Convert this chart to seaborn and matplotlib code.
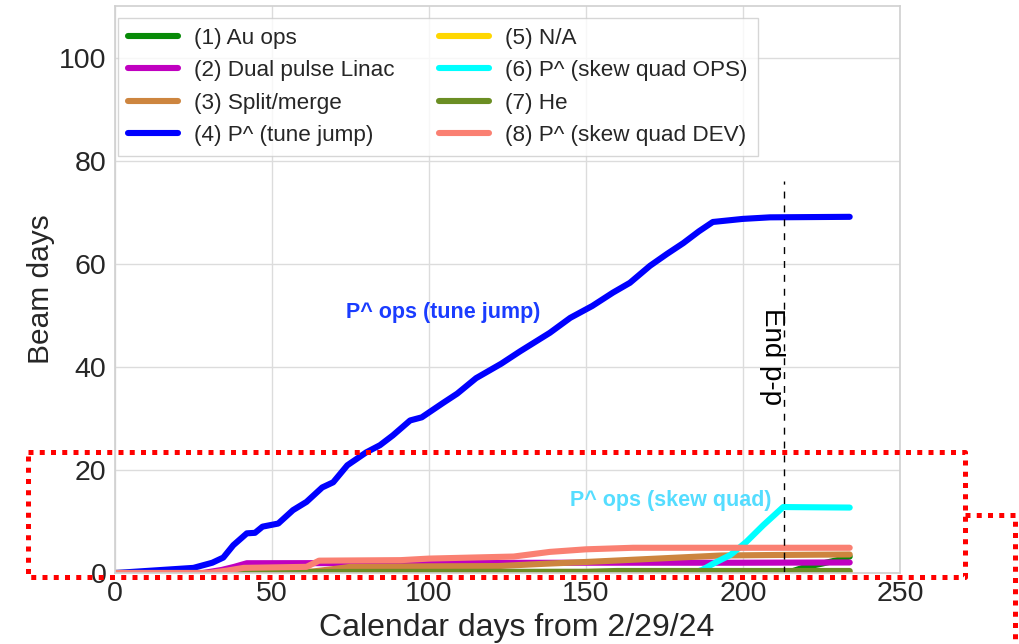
import numpy as np
import pandas as pd
import matplotlib
matplotlib.use("Agg")
import matplotlib.pyplot as plt
from matplotlib.lines import Line2D
import seaborn as sns

# ---------------- data ----------------
labels = ["(1) Au ops", "(2) Dual pulse Linac", "(3) Split/merge", "(4) P^ (tune jump)",
          "(5) N/A", "(6) P^ (skew quad OPS)", "(7) He", "(8) P^ (skew quad DEV)"]
colors = ["#078a07", "#c000c0", "#cd853f", "#0000ff", "#ffd700", "#00ffff", "#6b8e23", "#fa8072"]

au_x = [0, 212, 216, 220, 225, 230, 234]
au_y = [0, 0, 0.4, 1.2, 1.8, 2.5, 3.2]

dual_x = [0, 28, 34, 38, 42, 100, 150, 200, 234]
dual_y = [0, 0, 0.6, 1.2, 1.9, 1.95, 2.0, 2.0, 2.05]

split_x = [0, 40, 55, 63, 70, 75, 100, 122, 137, 152, 176, 193, 210, 234]
split_y = [0, 0, 0.1, 0.3, 0.8, 1.2, 1.3, 1.35, 1.8, 2.2, 2.9, 3.4, 3.5, 3.6]

tune_x = [0, 10, 25, 31, 34.5, 37.7, 42, 44.6, 47, 52, 56.7, 61, 66, 69.5, 74, 80, 84.4,
          88.5, 94, 97.7, 104.5, 109, 115, 123, 129, 138.5, 145, 152, 158.6, 164, 170.4,
          175.8, 181, 186, 190.4, 200, 208.6, 234]
tune_y = [0, 0.4, 1.0, 2.0, 3.0, 5.4, 7.7, 7.8, 9.0, 9.6, 12.2, 13.8, 16.6, 17.6, 20.9,
          23.4, 24.8, 26.7, 29.6, 30.2, 33.0, 34.8, 37.8, 40.6, 43.0, 46.6, 49.5, 51.8,
          54.4, 56.3, 59.6, 61.9, 64.0, 66.3, 68.1, 68.7, 69.0, 69.1]

na_x = [0, 234]
na_y = [0, 0]

skew_ops_x = [0, 184, 187, 190.5, 196, 201, 206.5, 212.8, 234]
skew_ops_y = [0, 0, 0.6, 1.8, 3.5, 6.0, 9.3, 12.8, 12.7]

he_x = [0, 40, 42, 150, 160, 234]
he_y = [0, 0, 0.2, 0.25, 0.4, 0.4]

skew_dev_x = [0, 30, 36, 41, 61, 65, 91, 100, 127, 138.5, 150, 165, 200, 234]
skew_dev_y = [0, 0, 0.5, 1.0, 1.2, 2.4, 2.5, 2.8, 3.2, 4.1, 4.6, 4.9, 4.9, 4.9]

series_x = [au_x, dual_x, split_x, tune_x, na_x, skew_ops_x, he_x, skew_dev_x]
series_y = [au_y, dual_y, split_y, tune_y, na_y, skew_ops_y, he_y, skew_dev_y]

end_pp_day = 213
x_ticks = [0, 50, 100, 150, 200, 250]
y_ticks = [0, 20, 40, 60, 80, 100]

# ---------------- plot ----------------
sns.set_theme(style="whitegrid")
plt.rcParams['font.family'] = ['Liberation Sans', 'DejaVu Sans']
plt.rcParams['axes.edgecolor'] = '#d0d0d0'
plt.rcParams['grid.color'] = '#dcdcdc'

fig = plt.figure(figsize=(10.2, 6.44), dpi=100)
ax = fig.add_axes([0.1127, 0.1102, 0.7696, 0.8805])

for xs, ys, lab, col in zip(series_x, series_y, labels, colors):
    df = pd.DataFrame({"day": xs, "beam": ys})
    sns.lineplot(data=df, x="day", y="beam", ax=ax, color=col, lw=4.4,
                 label=lab, estimator=None, sort=False)

ax.axvline(end_pp_day, ymin=0, ymax=76 / 110, color="black", ls=(0, (5, 5)), lw=1.0)
ax.text(end_pp_day - 3.6, 42, "End p-p", rotation=270, ha="center", va="center",
        fontsize=20, color="black")
ax.text(104.5, 50.5, "P^ ops (tune jump)", color="#1a3cff", fontsize=15.5,
        fontweight="bold", ha="center", va="center")
ax.text(177, 14, "P^ ops (skew quad)", color="#55ddff", fontsize=15.5,
        fontweight="bold", ha="center", va="center")

ax.set_xlim(0, 250)
ax.set_ylim(0, 110)
ax.set_xticks(x_ticks)
ax.set_yticks(y_ticks)
ax.tick_params(labelsize=20.5, colors="#262626", length=0, pad=6)
ax.set_xlabel("Calendar days from 2/29/24", fontsize=23.0, color="#262626", labelpad=4)
ax.xaxis.label.set_x(0.5 + 9 / 787)
ax.set_ylabel("Beam days", fontsize=21.5, color="#262626", labelpad=3)
for s in ax.spines.values():
    s.set_color("#d0d0d0")
    s.set_linewidth(1.2)

leg = ax.legend(loc="upper left", ncol=2, fontsize=16.2, frameon=True, fancybox=False,
                handlelength=2.2, columnspacing=2.0, labelspacing=0.5,
                bbox_to_anchor=(3 / 785, 1 - 12 / 567), borderaxespad=0,
                borderpad=0.45, handletextpad=0.72)
leg.get_frame().set_edgecolor("#cccccc")
leg.get_frame().set_linewidth(1.0)
for t in leg.get_texts():
    t.set_color("#262626")

# red dotted highlight annotation (figure pixel space)
W, H = 1020, 644
def fx(p): return p / W
def fy(p): return 1 - p / H
red_style = dict(color="red", lw=3.6, ls=(0, (1, 1.25)), transform=fig.transFigure, clip_on=False)
box_x = [28, 965, 965, 28, 28]
box_y = [452, 452, 577, 577, 452]
fig.add_artist(Line2D([fx(v) for v in box_x], [fy(v) for v in box_y], **red_style))
con_x = [965, 1015, 1015]
con_y = [515, 515, 644]
fig.add_artist(Line2D([fx(v) for v in con_x], [fy(v) for v in con_y], **red_style))

fig.savefig("out.png", dpi=100)
